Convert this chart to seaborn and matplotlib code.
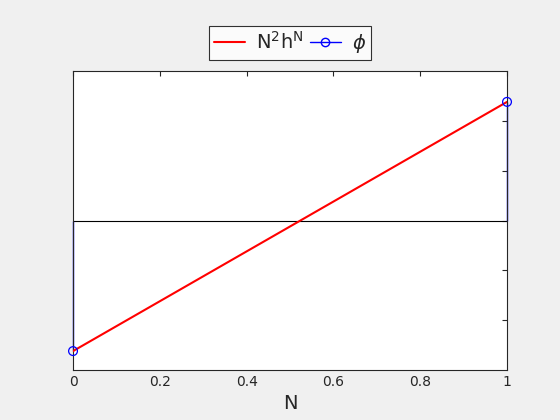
import numpy as np
import pandas as pd
import matplotlib
matplotlib.use("Agg")
import matplotlib.pyplot as plt
import seaborn as sns
from matplotlib.lines import Line2D

# values
n_vals = [0, 1]
line_vals = [-1.31, 1.19]   # N^2 h^N
phi_vals = [-1.31, 1.19]    # stems
x_ticks = [0, 0.2, 0.4, 0.6, 0.8, 1]
y_ticks = [-1, -0.5, 0, 0.5, 1]

df = pd.DataFrame({"N": n_vals, "line": line_vals, "phi": phi_vals})

sns.set_style("white")
plt.rcParams['font.family'] = ['DejaVu Sans']

fig = plt.figure(figsize=(5.6, 4.2), dpi=100, facecolor='#f0f0f0')
ax = fig.add_axes([0.1304, 0.119, 0.775, 0.712])
ax.set_facecolor('white')

# zero baseline
ax.axhline(0, color='black', linewidth=0.8, zorder=1)

# red line
sns.lineplot(data=df, x="N", y="line", color='red', linewidth=1.5, ax=ax, zorder=3)

# stems for phi
ax.vlines(df["N"], 0, df["phi"], color='blue', linewidth=1.0, zorder=2, clip_on=False)
sns.scatterplot(data=df, x="N", y="phi", marker='o', s=40, facecolor='none',
                edgecolor='blue', linewidth=0.9, ax=ax, zorder=4, clip_on=False)

ax.set_xlim(0, 1)
ax.set_ylim(-1.5, 1.5)
ax.set_xticks(x_ticks)
ax.set_xticklabels(['0', '0.2', '0.4', '0.6', '0.8', '1'])
ax.set_yticks(y_ticks)
ax.set_yticklabels([])
ax.tick_params(direction='in', length=3.5, width=0.8, top=True, right=True,
               labelsize=10, colors='#262626', labelcolor='#262626')
for s in ax.spines.values():
    s.set_color('#262626')
    s.set_linewidth(0.8)

ax.set_xlabel("N", fontsize=14, color='#262626')
ax.set_ylabel("")

handles = [Line2D([], [], color='red', linewidth=1.5),
           Line2D([], [], color='blue', linewidth=1.0, marker='o',
                  markerfacecolor='none', markeredgecolor='blue', markersize=6)]
labels = [r'$\mathrm{N^2h^N}$', r'$\phi$']
leg = fig.legend(handles, labels, loc='center', bbox_to_anchor=(0.518, 0.897),
                 ncol=2, fontsize=14, frameon=True, fancybox=False,
                 edgecolor='black', handlelength=1.6, columnspacing=0.3,
                 handletextpad=0.6, borderpad=0.25)
leg.get_frame().set_linewidth(0.8)

fig.savefig("out.png", dpi=100, facecolor=fig.get_facecolor())
